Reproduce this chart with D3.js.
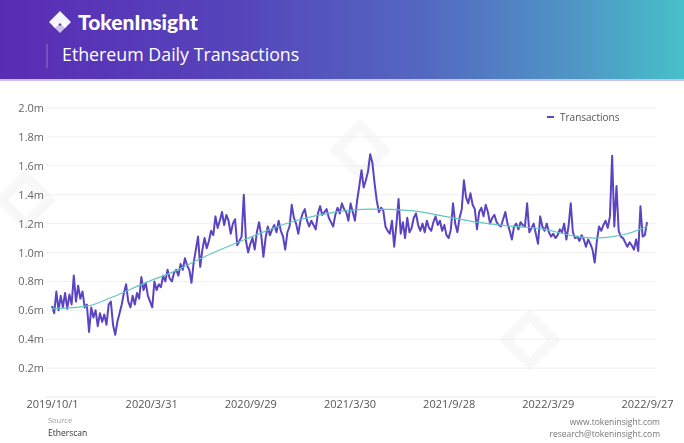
<!DOCTYPE html>
<html>
<head>
<meta charset="utf-8">
<script src="https://cdn.jsdelivr.net/npm/d3@7/dist/d3.min.js"></script>
<style>
  html, body { margin: 0; padding: 0; background: #fff; }
  svg { display: block; font-family: "Open Sans", "Noto Sans", sans-serif; }
</style>
</head>
<body>
<svg id="chart" width="684" height="443"></svg>
<script>
// ---- DATA ----
const title = "Ethereum Daily Transactions";
const brand = "TokenInsight";
const seriesName = "Transactions";
const startDate = "2019-10-01";
const stepDays = 4; // one value every 4 days
// daily transactions (millions), sampled every 4 days from 2019/10/1 to 2022/9/27
const txValues = [
  0.63,0.58,0.73,0.60,0.70,0.62,0.72,0.61,0.71,0.64,0.84,0.66,0.77,0.68,0.73,0.62,0.64,0.45,0.62,0.55,
  0.60,0.49,0.58,0.52,0.57,0.50,0.64,0.66,0.50,0.43,0.52,0.58,0.64,0.72,0.78,0.66,0.62,0.70,0.64,0.72,
  0.68,0.83,0.74,0.79,0.70,0.66,0.62,0.80,0.74,0.78,0.76,0.84,0.80,0.88,0.82,0.80,0.86,0.88,0.84,0.92,
  0.88,0.96,0.91,0.88,0.79,0.93,1.02,1.11,0.90,1.02,1.10,1.03,1.08,1.15,1.12,1.25,1.17,1.22,1.28,1.19,
  1.26,1.22,1.13,1.20,1.23,1.05,1.08,1.11,1.40,1.08,1.00,1.06,1.10,1.02,1.14,1.21,1.12,0.97,1.10,1.18,
  1.12,1.16,1.19,1.14,1.22,1.15,1.11,1.02,1.14,1.18,1.33,1.24,1.20,1.13,1.22,1.27,1.30,1.22,1.18,1.22,
  1.19,1.16,1.27,1.32,1.26,1.28,1.30,1.24,1.21,1.18,1.26,1.31,1.27,1.34,1.30,1.28,1.22,1.34,1.28,1.22,
  1.36,1.46,1.57,1.45,1.50,1.56,1.68,1.62,1.48,1.36,1.28,1.31,1.29,1.18,1.15,1.13,1.22,1.04,1.19,1.37,
  1.13,1.21,1.10,1.24,1.14,1.17,1.24,1.27,1.19,1.15,1.20,1.14,1.22,1.17,1.15,1.21,1.25,1.19,1.22,1.15,
  1.19,1.12,1.10,1.16,1.34,1.20,1.14,1.24,1.30,1.50,1.38,1.34,1.41,1.33,1.30,1.16,1.28,1.31,1.25,1.33,
  1.28,1.20,1.24,1.26,1.21,1.19,1.18,1.23,1.28,1.20,1.15,1.09,1.18,1.20,1.16,1.21,1.19,1.18,1.34,1.14,
  1.17,1.20,1.13,1.06,1.25,1.18,1.15,1.20,1.14,1.11,1.13,1.10,1.12,1.16,1.14,1.20,1.09,1.18,1.34,1.14,
  1.10,1.11,1.08,1.12,1.09,1.04,1.09,1.06,1.02,0.93,1.08,1.18,1.15,1.19,1.22,1.17,1.25,1.67,1.18,1.46,
  1.15,1.11,1.10,1.07,1.04,1.07,1.05,1.02,1.09,1.01,1.32,1.11,1.12,1.21
];
// smooth trend line (millions) at day offsets from start
const trendDays   = [0, 66, 110, 171, 231, 268, 354, 446, 520, 584, 660, 720, 780, 822, 904, 964, 996, 1028, 1056, 1092];
const trendValues = [0.61,0.63,0.69,0.79,0.88,0.95,1.09,1.22,1.28,1.30,1.29,1.25,1.21,1.19,1.16,1.11,1.10,1.11,1.13,1.18];
const xTickLabels = ["2019/10/1","2020/3/31","2020/9/29","2021/3/30","2021/9/28","2022/3/29","2022/9/27"];
const yTicks = [0.2,0.4,0.6,0.8,1.0,1.2,1.4,1.6,1.8,2.0];
const sourceLabel = "Source";
const sourceName = "Etherscan";
const site = "www.tokeninsight.com";
const email = "research@tokeninsight.com";

// ---- LAYOUT ----
const svg = d3.select("#chart");
const W = 684, H = 443;
const dayMs = 86400000;
const t0 = new Date(startDate + "T00:00:00Z");
const parseLabel = s => { const [y,m,d] = s.split("/").map(Number); return new Date(Date.UTC(y, m-1, d)); };
const series = txValues.map((v,i) => ({date: new Date(t0.getTime() + i*stepDays*dayMs), v}));
const trend = trendDays.map((d,i) => ({date: new Date(t0.getTime() + d*dayMs), v: trendValues[i]}));

const x = d3.scaleUtc()
  .domain([t0, series[series.length-1].date])
  .range([52, 647]);
const y = d3.scaleLinear().domain([0, 2.0]).range([397, 108]);

// ---- HEADER ----
const defs = svg.append("defs");
const grad = defs.append("linearGradient").attr("id","hdr").attr("x1","0").attr("x2","1").attr("y1","0").attr("y2","0");
[[0,"#5a2cb4"],[0.35,"#5545bb"],[0.62,"#5468c1"],[0.85,"#4f98c6"],[1,"#47c0c9"]]
  .forEach(([o,c]) => grad.append("stop").attr("offset",o).attr("stop-color",c));
svg.append("rect").attr("x",0).attr("y",0).attr("width",W).attr("height",80).attr("fill","url(#hdr)");
svg.append("rect").attr("x",0).attr("y",79).attr("width",W).attr("height",2).attr("fill","#c9c3e6");

// logo icon
const logo = svg.append("g").attr("transform","translate(60,22)");
logo.append("path").attr("d","M0,-11 L11,0 L5,6 L0,1 L-5,6 L-11,0 Z").attr("fill","#ffffff").attr("opacity",0.95);
logo.append("path").attr("d","M-7,4 L0,11 L7,4 L3.5,0.5 L0,4 L-3.5,0.5 Z").attr("fill","#ffffff").attr("opacity",0.7);
svg.append("text").attr("x",78).attr("y",30).attr("fill","#fff")
  .attr("font-family","Lato, 'Open Sans', sans-serif").attr("font-weight",900).attr("font-size",21).text(brand);
svg.append("line").attr("x1",47).attr("x2",47).attr("y1",44).attr("y2",68).attr("stroke","#ffffff").attr("stroke-opacity",0.35);
svg.append("text").attr("x",62).attr("y",61).attr("fill","#fff").attr("font-size",17.8).text(title);

// ---- PLOT WATERMARK SHAPES (faint) ----
const wm = svg.append("g").attr("fill","#000").attr("opacity",0.03);
[[25,200],[360,150],[530,340]].forEach(([cx,cy]) => {
  wm.append("path").attr("transform",`translate(${cx},${cy}) rotate(45)`)
    .attr("d","M-22,-22 H22 V22 H-22 Z M-12,-12 V12 H12 V-12 Z").attr("fill-rule","evenodd");
});

// ---- GRID & Y AXIS ----
const plot = svg.append("g");
plot.selectAll("line.grid").data(yTicks).join("line")
  .attr("x1",46).attr("x2",656).attr("y1",d=>y(d)).attr("y2",d=>y(d))
  .attr("stroke","#f0f0f0").attr("stroke-width",1);
plot.append("line").attr("x1",46).attr("x2",656).attr("y1",y(0)).attr("y2",y(0)).attr("stroke","#e8e8e8");

const yAxis = d3.axisLeft(y).tickValues(yTicks).tickFormat(d => d.toFixed(1) + "m").tickSize(0).tickPadding(0);
const yg = svg.append("g").attr("transform","translate(44,0)").call(yAxis);
yg.select(".domain").remove();
yg.selectAll("text").attr("fill","#666").attr("font-size",11).attr("font-family","'Open Sans', sans-serif");

// ---- X AXIS ----
const xAxis = d3.axisBottom(x).tickValues(xTickLabels.map(parseLabel))
  .tickFormat((d,i) => xTickLabels[i]).tickSize(0).tickPadding(0);
const xg = svg.append("g").attr("transform","translate(0,400)").call(xAxis);
xg.select(".domain").remove();
xg.selectAll("text").attr("fill","#555").attr("font-size",11).attr("dy","0.71em").attr("font-family","'Open Sans', sans-serif");

// ---- LINES ----
const line = d3.line().x(d=>x(d.date)).y(d=>y(d.v));
svg.append("path").datum(series).attr("d",line)
  .attr("fill","none").attr("stroke","#5b44c2").attr("stroke-width",2).attr("stroke-linejoin","round");
const tline = d3.line().x(d=>x(d.date)).y(d=>y(d.v)).curve(d3.curveMonotoneX);
svg.append("path").datum(trend).attr("d",tline)
  .attr("fill","none").attr("stroke","#63c6bf").attr("stroke-width",1.2);

// ---- LEGEND ----
svg.append("line").attr("x1",547).attr("x2",554).attr("y1",117).attr("y2",117).attr("stroke","#5b44c2").attr("stroke-width",2);
svg.append("text").attr("x",560).attr("y",121).attr("fill","#555").attr("font-size",10).text(seriesName);

// ---- FOOTER ----
svg.append("text").attr("x",48).attr("y",423).attr("fill","#999").attr("font-size",7.5).text(sourceLabel);
svg.append("text").attr("x",48).attr("y",436).attr("fill","#333").attr("font-size",8.5).text(sourceName);
svg.append("text").attr("x",660).attr("y",425).attr("text-anchor","end").attr("fill","#777").attr("font-size",8.5).text(site);
svg.append("text").attr("x",660).attr("y",437).attr("text-anchor","end").attr("fill","#777").attr("font-size",8.5).text(email);
</script>
</body>
</html>
